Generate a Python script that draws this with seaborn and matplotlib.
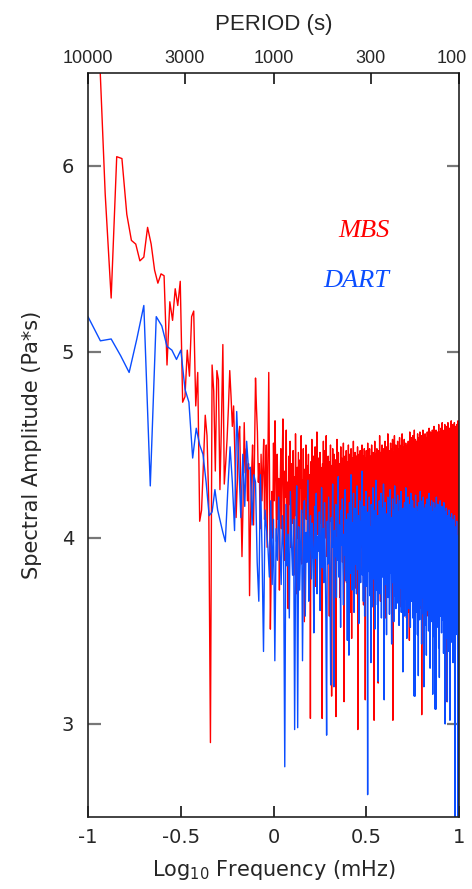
# Espectros de amplitude MBS x DART
import numpy as np
import pandas as pd
import seaborn as sns
import matplotlib
matplotlib.use("Agg")
import matplotlib.pyplot as plt
from matplotlib.transforms import ScaledTranslation

# resolucao em frequencia de cada registro (mHz) e primeiro bin usado
mbs_df = 1 / 105
mbs_k0 = 12
dart_df = 1 / 60
dart_k0 = 6

# MBS - parte de baixa frequencia (bins 12..105)
mbs_low = [
    6.70, 5.85, 5.29, 6.05, 6.04, 5.74, 5.60, 5.58, 5.49, 5.51, 5.67, 5.58, 5.44, 5.37, 5.42, 5.41,
    4.93, 5.27, 5.17, 5.34, 5.25, 5.38, 4.73, 4.76, 5.01, 4.87, 5.19, 5.22, 4.71, 4.89, 4.09, 4.15, 4.40, 4.66, 4.55, 4.20,
    2.90, 4.93, 4.79, 4.36, 4.90, 4.85, 4.26, 4.60, 5.04, 4.29, 4.40, 4.53, 4.70, 4.90, 4.76, 4.60, 4.71, 4.45, 4.11, 4.30,
    4.55, 4.60, 4.25, 3.90, 4.20, 4.62, 4.35, 4.48, 4.20, 4.40, 3.69, 4.10, 4.35, 4.50, 4.07, 4.45, 4.86, 4.70, 4.57, 4.30,
    4.40, 4.05, 4.45, 4.20, 4.38, 4.53, 4.10, 4.35, 4.50, 3.95, 4.42, 4.89, 4.30, 3.51, 3.80, 4.25, 4.00, 4.51,
]

# MBS - parte densa (bins 106..1050, 1 a 10 mHz)
mbs_high = [
    4.20, 4.63, 4.35, 3.98, 4.45, 4.10, 4.32, 3.72, 4.28, 4.48, 4.05, 4.40, 4.64, 4.15, 3.88, 4.36, 4.22, 4.58, 4.02, 4.30,
    3.62, 4.44, 4.18, 4.52, 3.95, 4.26, 4.40, 4.08, 4.47, 3.80, 4.33, 4.12, 4.56, 4.24, 3.70, 4.38, 4.00, 4.46, 4.19, 3.92,
    4.42, 4.27, 4.55, 3.86, 4.31, 4.14, 4.48, 4.03, 3.55, 4.37, 4.22, 4.50, 4.10, 4.39, 3.97, 4.29, 4.45, 4.16, 3.78, 4.34,
    3.03, 4.41, 4.20, 4.53, 4.06, 4.30, 3.89, 4.44, 4.25, 4.12, 4.49, 3.74, 4.36, 4.18, 4.57, 4.02, 4.27, 4.43, 3.93, 4.33,
    4.15, 4.46, 4.08, 4.38, 3.66, 4.29, 3.03, 4.40, 4.21, 4.52, 4.10, 3.84, 4.35, 4.47, 4.00, 4.24, 4.55, 4.13, 3.90, 4.37,
    4.26, 4.44, 4.05, 4.32, 3.58, 4.41, 4.18, 4.50, 4.09, 4.28, 3.15, 4.39, 4.22, 4.48, 3.96, 4.33, 4.14, 4.45, 4.02, 4.30,
    3.82, 4.42, 3.04, 4.36, 4.19, 4.53, 4.07, 4.31, 3.94, 4.46, 4.23, 4.11, 4.40, 3.68, 4.34, 4.20, 4.49, 4.01, 4.27, 4.43,
    4.16, 3.87, 4.38, 4.25, 4.51, 4.06, 3.12, 4.35, 4.21, 4.44, 3.99, 4.30, 4.12, 4.47, 3.76, 4.37, 4.24, 4.03, 4.41, 4.18,
    4.50, 3.92, 4.29, 4.45, 4.09, 4.34, 3.60, 4.40, 4.22, 4.48, 4.04, 3.46, 4.15, 4.43, 3.85, 4.36, 4.26, 4.52, 4.08, 4.33,
    3.97, 4.42, 4.19, 4.46, 4.11, 4.37, 3.73, 4.28, 4.44, 4.05, 4.32, 4.21, 4.49, 2.97, 4.39, 4.14, 4.27, 3.89, 4.45, 4.23,
    4.36, 4.02, 4.47, 4.18, 3.81, 4.33, 4.41, 4.10, 4.29, 4.50, 3.95, 4.38, 4.24, 4.44, 4.07, 3.64, 4.35, 4.20, 4.48, 4.13,
    4.40, 4.27, 3.13, 4.43, 4.16, 4.34, 4.47, 4.05, 4.30, 3.78, 4.42, 4.22, 4.51, 4.09, 4.37, 4.25, 3.99, 4.45, 4.17, 4.32,
    4.48, 4.03, 4.39, 4.26, 3.70, 4.44, 4.20, 4.35, 4.11, 4.50, 3.94, 4.31, 4.42, 4.15, 4.28, 4.46, 3.86, 4.37, 4.23, 4.07,
    3.02, 4.41, 4.29, 4.52, 4.12, 4.36, 3.97, 4.45, 4.21, 4.33, 3.75, 4.40, 4.18, 4.48, 4.08, 4.30, 4.43, 3.90, 4.35, 3.22,
    4.47, 4.14, 4.38, 3.83, 4.44, 4.24, 4.55, 4.06, 4.32, 4.41, 3.66, 4.28, 4.46, 4.19, 4.37, 4.01, 4.43, 4.25, 4.50, 3.93,
    4.34, 4.20, 4.45, 4.10, 4.39, 3.79, 4.31, 4.48, 4.16, 4.42, 4.27, 3.98, 4.36, 4.52, 4.13, 4.40, 3.57, 4.29, 4.46, 4.22,
    4.38, 4.04, 4.49, 4.25, 4.33, 3.88, 4.44, 4.18, 4.56, 4.11, 4.35, 4.41, 3.72, 4.30, 4.47, 4.21, 4.39, 4.07, 4.45, 4.28,
    3.95, 4.42, 4.23, 4.51, 4.15, 4.36, 4.44, 3.84, 4.32, 4.48, 4.19, 4.40, 4.05, 4.37, 4.53, 4.26, 3.02, 4.43, 4.30, 4.12,
    4.46, 4.34, 3.76, 4.41, 4.22, 4.55, 4.09, 4.38, 4.47, 3.92, 4.29, 4.44, 4.17, 4.50, 4.33, 3.69, 4.40, 4.25, 4.49, 4.13,
    4.37, 4.45, 4.01, 4.31, 4.52, 4.20, 3.87, 4.43, 4.36, 4.11, 4.48, 4.27, 4.39, 3.96, 4.46, 4.24, 4.54, 4.08, 4.35, 4.42,
    3.63, 4.30, 4.47, 4.19, 4.41, 4.03, 4.38, 4.50, 4.22, 3.81, 4.44, 4.33, 4.56, 4.14, 4.40, 4.27, 3.99, 4.45, 4.36, 4.21,
    4.49, 4.10, 4.37, 3.74, 4.43, 4.29, 4.53, 4.16, 4.39, 4.46, 3.90, 4.32, 4.48, 4.23, 4.41, 4.06, 4.51, 4.35, 3.85, 4.44,
    4.26, 3.57, 4.12, 4.40, 4.47, 3.97, 4.34, 4.20, 4.50, 4.38, 3.60, 4.43, 4.28, 4.52, 4.15, 4.37, 4.45, 4.02, 4.31, 4.48,
    4.22, 3.45, 4.42, 4.35, 4.57, 4.18, 4.39, 4.46, 4.07, 4.33, 4.50, 3.93, 4.41, 4.25, 4.54, 4.13, 4.36, 3.70, 4.44, 4.30,
    4.49, 4.21, 4.40, 4.04, 4.47, 4.36, 4.55, 3.88, 4.32, 4.43, 4.19, 4.51, 4.27, 4.38, 3.98, 4.45, 4.33, 4.58, 4.11, 4.40,
    3.82, 4.48, 4.24, 4.42, 4.36, 4.53, 4.09, 4.39, 4.46, 3.67, 4.31, 4.50, 4.22, 4.44, 4.37, 4.01, 4.52, 4.28, 4.41, 3.91,
    4.47, 4.34, 4.56, 4.16, 4.43, 4.38, 3.77, 4.49, 4.25, 4.40, 4.54, 4.06, 4.35, 4.45, 3.95, 4.30, 4.51, 4.20, 4.42, 4.37,
    4.57, 4.13, 4.46, 3.86, 4.39, 4.28, 4.52, 4.44, 4.10, 4.36, 3.62, 4.48, 4.23, 4.41, 4.55, 3.05, 4.33, 4.47, 4.18, 4.40,
    4.50, 3.99, 4.37, 4.45, 4.26, 4.58, 4.07, 4.42, 3.80, 4.34, 4.49, 4.21, 4.44, 4.38, 3.93, 4.53, 4.29, 4.46, 4.14, 4.41,
    3.73, 4.48, 4.35, 4.56, 4.19, 4.43, 4.31, 4.51, 4.03, 4.40, 4.47, 3.89, 4.36, 4.54, 4.24, 4.45, 4.11, 4.39, 4.50, 3.58,
    4.42, 4.30, 4.57, 4.16, 4.46, 4.37, 3.96, 4.52, 4.27, 4.44, 4.08, 4.41, 4.55, 3.84, 4.35, 4.48, 4.22, 4.43, 4.59, 4.12,
    4.38, 3.69, 4.47, 4.33, 4.53, 4.20, 3.50, 4.40, 3.92, 4.50, 4.28, 4.57, 4.14, 4.42, 4.36, 4.05, 4.49, 4.31, 3.78, 4.46,
    4.55, 4.23, 4.40, 4.51, 3.99, 4.37, 4.44, 4.17, 4.58, 4.32, 3.87, 4.48, 4.26, 4.42, 4.54, 4.10, 4.39, 4.47, 3.65, 4.34,
    4.52, 4.21, 4.45, 4.38, 4.60, 4.06, 4.43, 3.94, 4.50, 4.29, 4.41, 4.56, 4.15, 4.36, 3.81, 4.47, 4.33, 4.53, 4.24, 4.44,
    4.02, 4.49, 4.37, 4.58, 3.90, 4.42, 4.28, 4.51, 4.19, 4.46, 4.35, 3.72, 4.54, 4.40, 4.12, 4.48, 4.31, 4.57, 3.97, 4.43,
    4.25, 4.52, 4.38, 4.09, 4.47, 3.85, 4.41, 4.55, 4.22, 4.36, 4.61, 4.14, 4.45, 3.76, 4.50, 4.32, 4.44, 4.04, 4.57, 4.39,
    3.93, 4.48, 4.27, 4.53, 4.40, 4.18, 4.46, 3.64, 4.37, 4.56, 4.23, 4.43, 4.34, 4.59, 3.88, 4.42, 4.11, 4.50, 4.30, 4.47,
    4.38, 3.99, 4.55, 4.21, 4.44, 4.36, 4.62, 3.79, 4.41, 4.49, 4.16, 4.33, 4.52, 4.07, 4.45, 4.39, 3.91, 4.57, 4.26, 4.43,
    4.50, 4.13, 4.37, 3.70, 4.48, 4.31, 4.58, 4.20, 4.42, 4.46, 3.96, 4.54, 4.29, 4.40, 4.61, 4.05, 4.35, 4.47, 3.83, 4.44,
    4.56, 4.24, 4.39, 4.51, 4.10, 4.45, 3.89, 4.60, 4.33, 4.42, 4.18, 4.53, 4.37, 3.67, 4.48, 4.28, 4.55, 4.41, 3.12, 4.46,
    4.32, 4.58, 4.15, 4.43, 4.50, 3.94, 4.38, 4.47, 4.22, 4.62, 4.08, 4.41, 3.78, 4.53, 4.35, 4.45, 4.19, 4.57, 4.30, 4.49,
    3.98, 4.40, 4.54, 4.26, 4.46, 4.37, 3.86, 4.59, 4.12, 4.44, 4.51, 4.23, 4.39, 3.30, 4.48, 4.33, 4.56, 4.17, 4.43, 4.50,
    4.04, 4.36, 4.47, 3.92, 4.58, 4.29, 4.42, 4.63, 4.14, 4.40, 4.52, 3.81, 4.45, 4.34, 4.57, 4.21, 4.49, 4.38, 3.97, 4.55,
    4.27, 4.44, 4.10, 4.61, 4.36, 4.48, 3.74, 4.41, 4.53, 4.19, 4.46, 4.33, 4.59, 3.90, 4.43, 4.50, 4.25, 4.38, 4.56, 4.07,
    4.45, 3.85, 4.52, 4.31, 4.47, 4.62, 4.16, 4.40, 4.55, 3.95, 4.37, 4.49, 4.22, 4.58, 4.34, 3.69, 4.46, 4.41, 4.60, 4.12,
    4.43, 4.51, 4.28, 3.88, 4.54, 4.39, 4.47, 4.20, 4.57, 4.35, 4.02, 4.50, 4.44, 3.79, 4.61, 4.30, 4.48, 4.16, 4.42, 4.55,
    4.24, 3.93, 4.46, 4.37, 4.59, 4.11, 4.52, 4.40, 3.72, 4.49, 4.33, 4.63, 4.21, 4.45, 4.38, 3.99, 4.56, 4.29, 4.47, 4.14,
    4.50, 4.36, 3.86, 4.44, 4.31,
]

# DART - parte de baixa frequencia (bins 6..60)
dart_low = [
    5.19, 5.06, 5.07, 4.98, 4.89, 5.07, 5.25, 4.28, 5.19, 5.14, 5.03, 5.01, 4.96, 5.01,
    4.80, 4.73, 4.43, 4.59, 4.50, 4.45, 4.30, 4.12, 4.14, 4.26, 4.15, 4.09, 4.03, 3.98, 4.25, 4.49, 4.30, 4.04, 4.68, 4.40,
    4.11, 4.45, 4.17, 4.52, 4.37, 4.38, 4.07, 4.34, 4.30, 3.87, 3.66, 4.34, 3.95, 3.39, 4.15, 4.05, 3.95, 3.79, 4.20, 3.75, 4.10,
]

# DART - parte densa (bins 61..600)
dart_high = [
    3.34, 4.05, 3.88, 4.22, 3.95, 3.75, 4.12, 3.92, 2.77, 4.18, 3.85, 4.02, 3.57, 4.25, 3.98, 3.80, 4.10, 2.97, 3.93, 4.28,
    2.98, 4.06, 3.72, 3.96, 4.15, 3.34, 3.90, 4.20, 3.58, 4.03, 3.87, 4.31, 3.66, 3.99, 4.12, 3.78, 4.08, 3.94, 3.49, 4.17,
    3.89, 4.24, 3.70, 4.01, 3.93, 4.14, 3.61, 3.97, 4.27, 3.84, 4.05, 3.76, 4.19, 3.91, 3.55, 2.94, 4.09, 3.86, 4.22, 3.98,
    3.74, 3.21, 4.11, 3.95, 4.29, 3.82, 3.20, 4.04, 3.90, 4.18, 3.68, 4.00, 3.88, 4.33, 3.79, 4.07, 3.93, 3.52, 4.15, 3.96,
    4.21, 3.85, 3.64, 4.02, 3.91, 4.26, 3.77, 4.10, 3.98, 3.45, 4.13, 3.89, 3.37, 4.19, 3.94, 3.81, 4.34, 4.03, 3.72, 4.08,
    3.92, 4.24, 3.60, 3.99, 4.16, 3.86, 4.05, 3.70, 4.28, 3.95, 3.83, 4.12, 3.54, 4.00, 4.20, 3.88, 3.76, 4.09, 3.97, 4.36,
    3.80, 4.04, 3.66, 4.17, 3.93, 3.58, 4.11, 3.87, 4.25, 3.74, 4.01, 3.90, 2.62, 4.14, 3.96, 3.82, 4.22, 3.69, 4.06, 3.91,
    3.33, 4.18, 3.85, 4.02, 3.63, 4.27, 3.94, 3.78, 4.09, 3.99, 3.51, 4.15, 3.88, 4.31, 3.72, 4.03, 3.92, 3.64, 4.12, 3.23,
    4.06, 3.84, 4.20, 3.95, 3.70, 4.10, 3.89, 4.24, 3.57, 4.00, 3.93, 4.16, 3.79, 3.97, 4.29, 3.66, 3.13, 4.08, 3.86, 4.19,
    3.75, 4.04, 3.91, 3.48, 4.13, 3.98, 3.82, 4.22, 3.68, 4.01, 3.90, 4.17, 3.59, 3.96, 4.26, 3.81, 4.07, 3.94, 3.71, 3.43,
    4.11, 3.87, 4.21, 3.76, 4.00, 3.92, 3.55, 4.15, 3.84, 4.28, 3.69, 4.05, 3.95, 3.62, 4.18, 3.89, 4.09, 3.78, 3.99, 4.23,
    3.65, 4.02, 3.90, 4.14, 3.53, 3.97, 4.20, 3.81, 4.06, 3.73, 3.94, 4.25, 3.60, 4.01, 3.88, 4.12, 3.77, 3.96, 3.28, 4.16,
    3.85, 4.08, 3.70, 3.99, 4.19, 3.58, 3.93, 4.11, 3.80, 4.27, 3.67, 4.03, 3.91, 3.46, 4.15, 3.87, 4.05, 3.74, 4.22, 3.95,
    3.62, 4.10, 3.89, 3.98, 4.18, 3.71, 4.04, 3.52, 3.94, 4.24, 3.79, 4.01, 3.66, 4.13, 3.90, 3.84, 4.20, 3.57, 4.07, 3.93,
    3.76, 4.16, 3.88, 3.15, 4.02, 3.69, 4.11, 3.15, 3.97, 4.23, 3.81, 3.60, 4.06, 3.92, 4.17, 3.73, 3.99, 3.48, 4.14, 3.86,
    4.04, 3.26, 3.95, 4.19, 3.70, 4.08, 3.83, 3.56, 4.12, 3.90, 4.25, 3.64, 4.00, 3.87, 4.15, 3.77, 3.43, 4.05, 3.94, 4.20,
    3.68, 3.98, 4.10, 3.80, 4.22, 3.59, 3.91, 3.20, 4.07, 3.85, 4.16, 3.72, 4.01, 3.53, 3.95, 4.18, 3.66, 4.03, 3.89, 3.37,
    4.13, 3.82, 3.99, 4.21, 3.61, 3.93, 4.09, 3.75, 4.15, 3.87, 3.50, 4.04, 3.96, 4.24, 3.69, 3.90, 4.11, 3.78, 3.30, 4.02,
    3.84, 4.17, 3.63, 3.97, 4.08, 3.71, 4.20, 3.88, 3.55, 4.06, 3.92, 3.79, 3.16, 4.14, 3.86, 4.00, 3.67, 4.19, 3.94, 3.47,
    4.10, 3.81, 4.03, 3.60, 3.95, 3.08, 4.16, 3.89, 3.74, 4.07, 3.08, 3.98, 4.22, 3.65, 3.91, 4.05, 3.52, 3.85, 4.12, 3.77,
    3.96, 4.18, 3.62, 4.01, 3.88, 3.41, 4.09, 3.83, 4.15, 3.25, 3.94, 3.70, 4.06, 3.87, 4.20, 3.58, 3.99, 3.79, 4.11, 3.66,
    3.92, 4.04, 3.49, 3.86, 4.17, 3.73, 3.97, 4.08, 3.56, 3.90, 4.13, 3.68, 3.84, 4.02, 3.38, 3.95, 4.19, 3.76, 3.89, 4.06,
    3.61, 3.93, 4.10, 3.80, 3.00, 3.98, 4.14, 3.69, 3.87, 4.03, 3.54, 3.91, 4.16, 3.75, 3.46, 3.96, 4.08, 3.82, 3.12, 4.00,
    3.88, 4.12, 3.64, 3.94, 4.05, 3.71, 3.39, 3.99, 4.15, 3.78, 3.90, 3.57, 4.09, 3.85, 3.67, 3.02, 4.01, 3.93, 3.74, 4.11,
    3.83, 3.51, 3.97, 4.07, 3.70, 3.89, 4.13, 3.44, 3.92, 3.62, 4.04, 3.86, 3.76, 4.10, 3.58, 3.95, 3.33, 3.81, 4.02, 3.69,
    3.90, 4.08, 3.55, 3.84, 3.98, 3.66, 4.12, 3.73, 2.45, 2.30, 2.40, 3.87, 4.03, 3.60, 3.92, 3.78, 3.48, 4.06, 3.85, 3.64,
    3.96, 3.71, 4.09, 3.50, 3.88, 3.79, 4.01, 3.62, 3.93, 3.40, 3.84, 2.35, 2.28, 2.45, 3.97, 3.68, 3.86, 4.04, 3.57, 3.90,
]

periodos = [10000, 3000, 1000, 300, 100]  # s, eixo de cima

# montando a tabela em formato longo
mbs_amp = mbs_low + mbs_high
dart_amp = dart_low + dart_high
mbs_f = mbs_df * np.arange(mbs_k0, mbs_k0 + len(mbs_amp))
dart_f = dart_df * np.arange(dart_k0, dart_k0 + len(dart_amp))

tabela = pd.concat([
    pd.DataFrame({"logf": np.log10(mbs_f), "amp": mbs_amp, "serie": "MBS"}),
    pd.DataFrame({"logf": np.log10(dart_f), "amp": dart_amp, "serie": "DART"}),
], ignore_index=True)

sns.set_theme(style="white")
plt.rcParams["font.family"] = ["DejaVu Sans"]

cores = {"MBS": "#ff0000", "DART": "#0a4dff"}

fig = plt.figure(figsize=(4.72, 8.89), dpi=100)
ax = fig.add_axes([0.1864, 0.0810, 0.7861, 0.8369])

sns.lineplot(data=tabela, x="logf", y="amp", hue="serie", hue_order=["MBS", "DART"],
             palette=cores, estimator=None, sort=False, lw=1.0, legend=False, ax=ax)

ax.set_xlim(-1, 1)
ax.set_ylim(2.5, 6.5)
ax.set_xticks([-1, -0.5, 0, 0.5, 1])
ax.set_xticklabels(["-1", "-0.5", "0", "0.5", "1"])
ax.set_yticks([3, 4, 5, 6])
ax.set_yticklabels(["3", "4", "5", "6"])
ax.tick_params(axis="x", direction="in", length=8, width=1.2, color="#111", labelsize=14, pad=8)
ax.tick_params(axis="y", direction="in", length=9, width=1.6, color="#777", labelsize=14, pad=10,
               left=True, right=True)
for s in ax.spines.values():
    s.set_color("#222")
    s.set_linewidth(1.2)

ax.set_xlabel(r"Log$_{\mathregular{10}}$ Frequency (mHz)", fontsize=15, labelpad=8)
ax.set_ylabel("Spectral Amplitude (Pa*s)", fontsize=15, labelpad=14)

# eixo de cima com o periodo
topo = ax.twiny()
topo.set_xlim(-1, 1)
topo.set_xticks(np.log10(1000 / np.array(periodos)))
topo.set_xticklabels([str(p) for p in periodos], family="Liberation Sans")
topo.tick_params(axis="x", direction="in", length=8, width=1.2, color="#111", labelsize=13, pad=4)
topo.set_xlabel("PERIOD (s)", family="Liberation Sans", fontsize=16, labelpad=15)
for s in topo.spines.values():
    s.set_visible(False)
# o "100" fica encostado na borda: puxa um pouco pra esquerda
ultimo = topo.get_xticklabels()[-1]
ultimo.set_transform(ultimo.get_transform() + ScaledTranslation(-5 / 72, 0, fig.dpi_scale_trans))

# nomes das series
ax.text(0.488, 5.65, "MBS", color=cores["MBS"], family="Liberation Serif", style="italic",
        fontsize=19, ha="center", va="center")
ax.text(0.445, 5.38, "DART", color=cores["DART"], family="Liberation Serif", style="italic",
        fontsize=19, ha="center", va="center")

fig.savefig("out.png", dpi=100)
